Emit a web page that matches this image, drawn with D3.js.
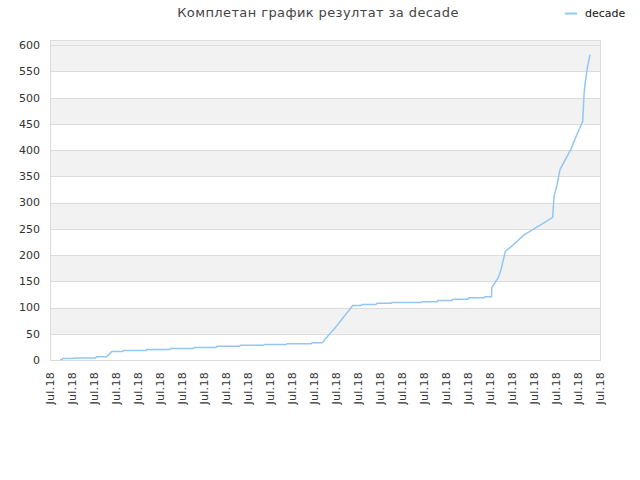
<!DOCTYPE html>
<html lang="sr">
<head>
<meta charset="utf-8">
<title>Комплетан график резултат за decade</title>
<style>
body { margin:0; background:#fff; }
* { font-family:"DejaVu Sans", sans-serif; }
</style>
<script src="https://cdnjs.cloudflare.com/ajax/libs/d3/7.8.5/d3.min.js"></script>
</head>
<body>
<script>
// x positions are in units of the date-label slots (26 labels, all "Jul.18")
var xLabels = d3.range(26).map(function() { return "Jul.18"; });
var tPos = [0.455, 0.545, 0.591, 1.068, 1.114, 2.068, 2.114, 2.568, 2.805, 3.295,
			3.341, 4.364, 4.409, 5.432, 5.477, 6.523, 6.568, 7.545, 7.591, 8.614,
			8.659, 9.705, 9.75, 10.727, 10.773, 11.864, 11.909, 12.364, 12.955, 13.759,
			14.136, 14.182, 14.818, 14.864, 15.5, 15.545, 16.864, 16.909, 17.591, 17.636,
			18.273, 18.318, 19.0, 19.045, 19.727, 19.773, 20.068, 20.082, 20.364, 20.5,
			20.605, 20.695, 21.059, 21.545, 21.968, 22.423, 22.85, 22.909, 23.032, 23.182,
			23.332, 23.668, 23.941, 24.214, 24.273, 24.318, 24.423, 24.545];
var scores = [1, 1, 3, 3, 4, 4, 6, 6, 16, 16,
			  18, 18, 20, 20, 22, 22, 24, 24, 26, 26,
			  28, 28, 29.5, 29.5, 31, 31, 33, 33, 61, 104,
			  104, 106, 106, 108, 108, 109.5, 109.5, 111, 111, 113.5,
			  113.5, 116, 116, 118.5, 118.5, 120.5, 120.5, 138, 156, 172,
			  191, 207, 219.5, 238.5, 249, 261, 272, 312, 331, 363,
			  375, 401, 429, 455, 506, 525, 557, 582];
var yTicks = d3.range(0, 601, 50);
var seriesName = "decade";
var chartTitle = "Комплетан график резултат за decade";

var width = 640,
	height = 480,
	plotLeft = 50, plotRight = 600, plotTop = 40, plotBottom = 360;

var svg = d3.select("body").append("svg")
	.attr("width", width)
	.attr("height", height);

var x = d3.scaleLinear().domain([0, xLabels.length - 1]).range([plotLeft, plotRight]);
var y = d3.scaleLinear().domain([0, 610]).range([plotBottom, plotTop]);

// alternating bands between the y ticks
var bandEdges = yTicks.concat([y.domain()[1]]);
svg.selectAll("rect.band")
	.data(bandEdges.slice(0, -1))
	.enter()
	.append("rect")
		.attr("class", "band")
		.attr("x", plotLeft)
		.attr("width", plotRight - plotLeft)
		.attr("y", function(d, i) { return y(bandEdges[i + 1]); })
		.attr("height", function(d, i) { return y(d) - y(bandEdges[i + 1]); })
		.style("fill", function(d, i) { return (i % 2 == 1 || i == bandEdges.length - 2) ? "#f2f2f2" : "#fff"; });

svg.selectAll("line.grid")
	.data(yTicks)
	.enter()
	.append("line")
		.attr("class", "grid")
		.attr("x1", plotLeft)
		.attr("x2", plotRight)
		.attr("y1", function(d) { return Math.round(y(d)) + 0.5; })
		.attr("y2", function(d) { return Math.round(y(d)) + 0.5; })
		.style("stroke", "#dcdcdc")
		.style("stroke-width", "1px");

svg.append("rect")
	.attr("x", plotLeft + 0.5)
	.attr("y", plotTop + 0.5)
	.attr("width", plotRight - plotLeft)
	.attr("height", plotBottom - plotTop)
	.style("fill", "none")
	.style("stroke", "#dcdcdc")
	.style("stroke-width", "1px");

// y axis labels
svg.selectAll("text.ylab")
	.data(yTicks)
	.enter()
	.append("text")
		.attr("class", "ylab")
		.attr("x", 40)
		.attr("y", function(d) { return y(d); })
		.attr("dy", "0.35em")
		.attr("text-anchor", "end")
		.style("font-size", "11px")
		.style("fill", "#333")
		.text(function(d) { return d; });

// x axis labels, rotated
svg.selectAll("text.xlab")
	.data(xLabels)
	.enter()
	.append("text")
		.attr("class", "xlab")
		.attr("transform", function(d, i) { return "translate(" + x(i) + "," + (plotBottom + 12) + ") rotate(-90)"; })
		.attr("dy", "0.35em")
		.attr("text-anchor", "end")
		.style("font-size", "11px")
		.style("letter-spacing", "0.3px")
		.style("fill", "#333")
		.text(function(d) { return d; });

// score line
var line = d3.line()
	.x(function(d) { return x(d[0]); })
	.y(function(d) { return y(d[1]); });

svg.append("path")
	.datum(d3.zip(tPos, scores))
	.attr("d", line)
	.style("fill", "none")
	.style("stroke", "#94c6f4")
	.style("stroke-width", "1.5px");

// title
svg.append("text")
	.attr("x", 318)
	.attr("y", 17)
	.attr("text-anchor", "middle")
	.style("font-size", "13px")
	.style("letter-spacing", "0.4px")
	.style("fill", "#444")
	.text(chartTitle);

// legend
svg.append("line")
	.attr("x1", 565)
	.attr("x2", 577)
	.attr("y1", 13.5)
	.attr("y2", 13.5)
	.style("stroke", "#94c6f4")
	.style("stroke-width", "2px");

svg.append("text")
	.attr("x", 585)
	.attr("y", 17)
	.style("font-size", "11px")
	.style("fill", "#111")
	.text(seriesName);
</script>
</body>
</html>
